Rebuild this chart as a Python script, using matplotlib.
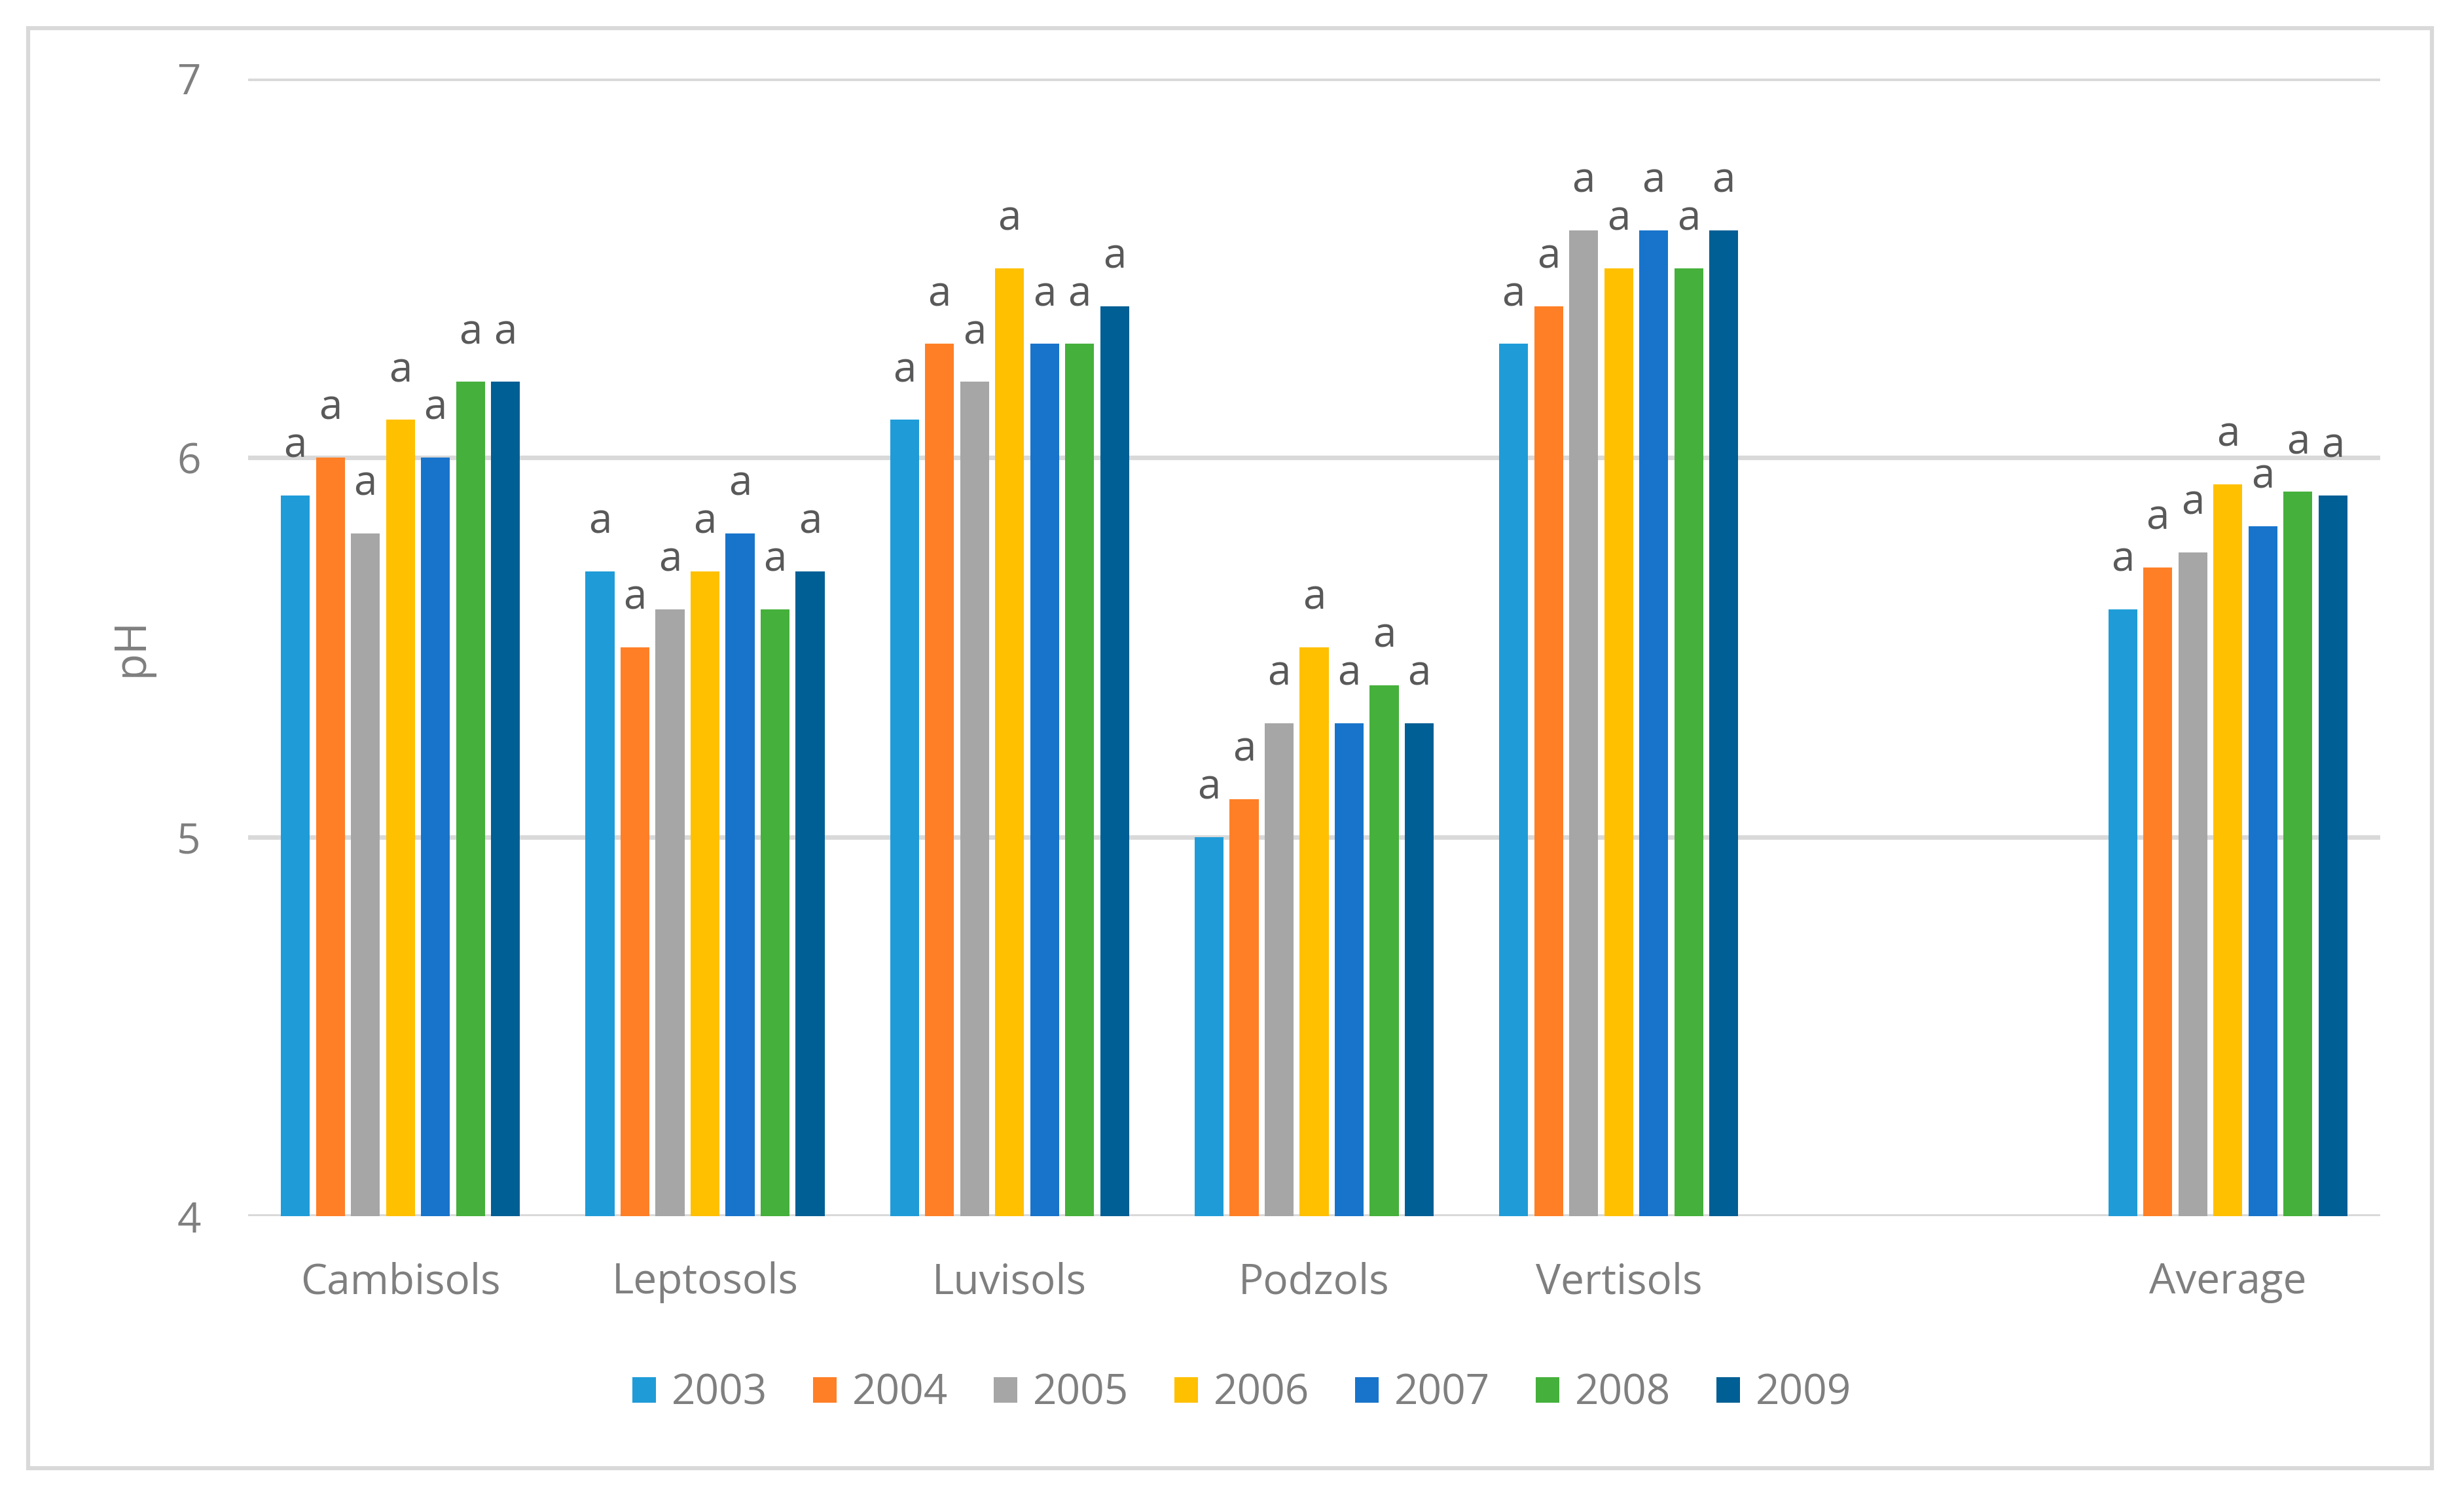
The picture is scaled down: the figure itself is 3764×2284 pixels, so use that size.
import numpy as np
import matplotlib
matplotlib.use("Agg")
import matplotlib.pyplot as plt
from matplotlib.patches import Rectangle

plt.rcParams['font.family'] = ['Open Sans', 'DejaVu Sans']

# data
categories = ['Cambisols', 'Leptosols', 'Luvisols', 'Podzols', 'Vertisols', '', 'Average']
years = ['2003', '2004', '2005', '2006', '2007', '2008', '2009']
ph_2003 = [5.9, 5.7, 6.1, 5.0, 6.3, np.nan, 5.60]
ph_2004 = [6.0, 5.5, 6.3, 5.1, 6.4, np.nan, 5.71]
ph_2005 = [5.8, 5.6, 6.2, 5.3, 6.6, np.nan, 5.75]
ph_2006 = [6.1, 5.7, 6.5, 5.5, 6.5, np.nan, 5.93]
ph_2007 = [6.0, 5.8, 6.3, 5.3, 6.6, np.nan, 5.82]
ph_2008 = [6.2, 5.6, 6.3, 5.4, 6.5, np.nan, 5.91]
ph_2009 = [6.2, 5.7, 6.4, 5.3, 6.6, np.nan, 5.90]
series = [ph_2003, ph_2004, ph_2005, ph_2006, ph_2007, ph_2008, ph_2009]
letters = 'a'

colors = ['#1F9CD8', '#FF7F27', '#A6A6A6', '#FFC000', '#1874CB', '#45B03C', '#005F95']

fig = plt.figure(figsize=(37.64, 22.84), dpi=100)
ax = fig.add_axes([0.1007, 0.1865, 0.8653, 0.761])

x = np.arange(len(categories))
slot = 0.115
bw = 0.095
for i, (vals, yr, c) in enumerate(zip(series, years, colors)):
    xs = x + (i - 3) * slot
    ax.bar(xs, vals, width=bw, bottom=0, color=c, label=yr, zorder=3)
    for xi, v in zip(xs, vals):
        if not np.isnan(v):
            ax.annotate(letters, (xi, v), xytext=(0, 42), textcoords='offset points',
                        ha='center', va='baseline', fontsize=46, color='#595959')

ax.set_ylim(4, 7)
ax.set_xlim(-0.5, len(categories) - 0.5)
ax.set_yticks([4, 5, 6, 7])
ax.set_xticks(x)
ax.set_xticklabels(categories)
ax.yaxis.grid(True, color='#D9D9D9', linewidth=5, zorder=0)
ax.set_axisbelow(True)
for s in ax.spines.values():
    s.set_visible(False)
ax.tick_params(axis='both', length=0, labelsize=46, colors='#7F7F7F')
ax.tick_params(axis='y', pad=52)
ax.tick_params(axis='x', pad=50)
ax.set_ylabel('pH', fontsize=48, color='#7F7F7F', labelpad=26)

fig.legend(loc='center', bbox_to_anchor=(0.504, 0.068), ncol=7, frameon=False,
           fontsize=46, handlelength=0.56, handleheight=0.56, handletextpad=0.37,
           columnspacing=1.1, labelcolor='#7F7F7F')

fig.patches.append(Rectangle((0.0115, 0.018), 0.9755, 0.963, transform=fig.transFigure,
                             fill=False, edgecolor='#D9D9D9', linewidth=4.5))

fig.savefig('out.png', dpi=100, facecolor='white')
